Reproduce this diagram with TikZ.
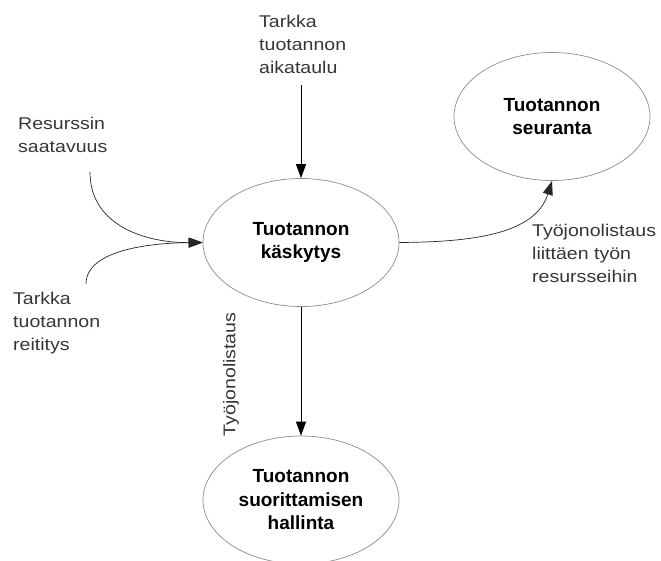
\documentclass[tikz,border=0pt]{standalone}
\usepackage{fontspec}
\setmainfont{Liberation Sans}
\newfontfamily\labelfont[FakeStretch=1.15]{Liberation Sans}
\usetikzlibrary{arrows.meta,shapes.geometric}
\definecolor{labelgray}{HTML}{3A3434}
\begin{document}
\begin{tikzpicture}[x=1pt,y=-1pt,
  proc/.style={ellipse, draw=black!45, line width=0.7pt, minimum width=196pt, minimum height=128pt,
    inner sep=0pt, align=center, font=\fontsize{19}{23.5}\selectfont\bfseries},
  lbl/.style={inner sep=0pt, anchor=north west, align=left, text=labelgray,
    font=\labelfont\fontsize{17}{23}\selectfont},
  flow/.style={draw=black, line width=0.9pt, -{Triangle[length=14pt,width=10pt]}},
  feed/.style={draw=black!85, line width=0.7pt, -{Triangle[length=14pt,width=10pt]}}]
  \useasboundingbox (0,0) rectangle (661,560);

  % processes
  \node[proc] (kask) at (301,242.5) {Tuotannon\\k\"askytys};
  \node[proc] (seur) at (552,116.5) {Tuotannon\\seuranta};
  \node[proc] (suor) at (301,500) {Tuotannon\\suorittamisen\\hallinta};

  % external inputs
  \node[lbl] (aika) at (259,15) {Tarkka\\tuotannon\\aikataulu};
  \node[lbl] (resu) at (18,117) {Resurssin\\saatavuus};
  \node[lbl] (reit) at (13,292) {Tarkka\\tuotannon\\reititys};
  \node[lbl] (liit) at (532,224) {Ty\"ojonolistaus\\liitt\"aen ty\"on\\resursseihin};
  \node[inner sep=0pt, text=labelgray, font=\labelfont\fontsize{17}{23}\selectfont, rotate=90]
    (tjl) at (231,374.5) {Ty\"ojonolistaus};

  % free ends of the input flows
  \coordinate (aikaEnd) at (301,85);
  \coordinate (resuEnd) at (90,172);
  \coordinate (reitEnd) at (86,284);

  % flows
  \draw[flow] (aikaEnd) -- (kask.north);
  \draw[feed] (resuEnd) .. controls (90,228) and (150,243) .. (kask.west);
  \draw[feed] (reitEnd) .. controls (86,250) and (150,243) .. (kask.west);
  \draw[feed] (kask.east) .. controls (470,242) and (535,235) .. (seur.south);
  \draw[flow] (kask.south) -- (suor.north);
\end{tikzpicture}
\end{document}
